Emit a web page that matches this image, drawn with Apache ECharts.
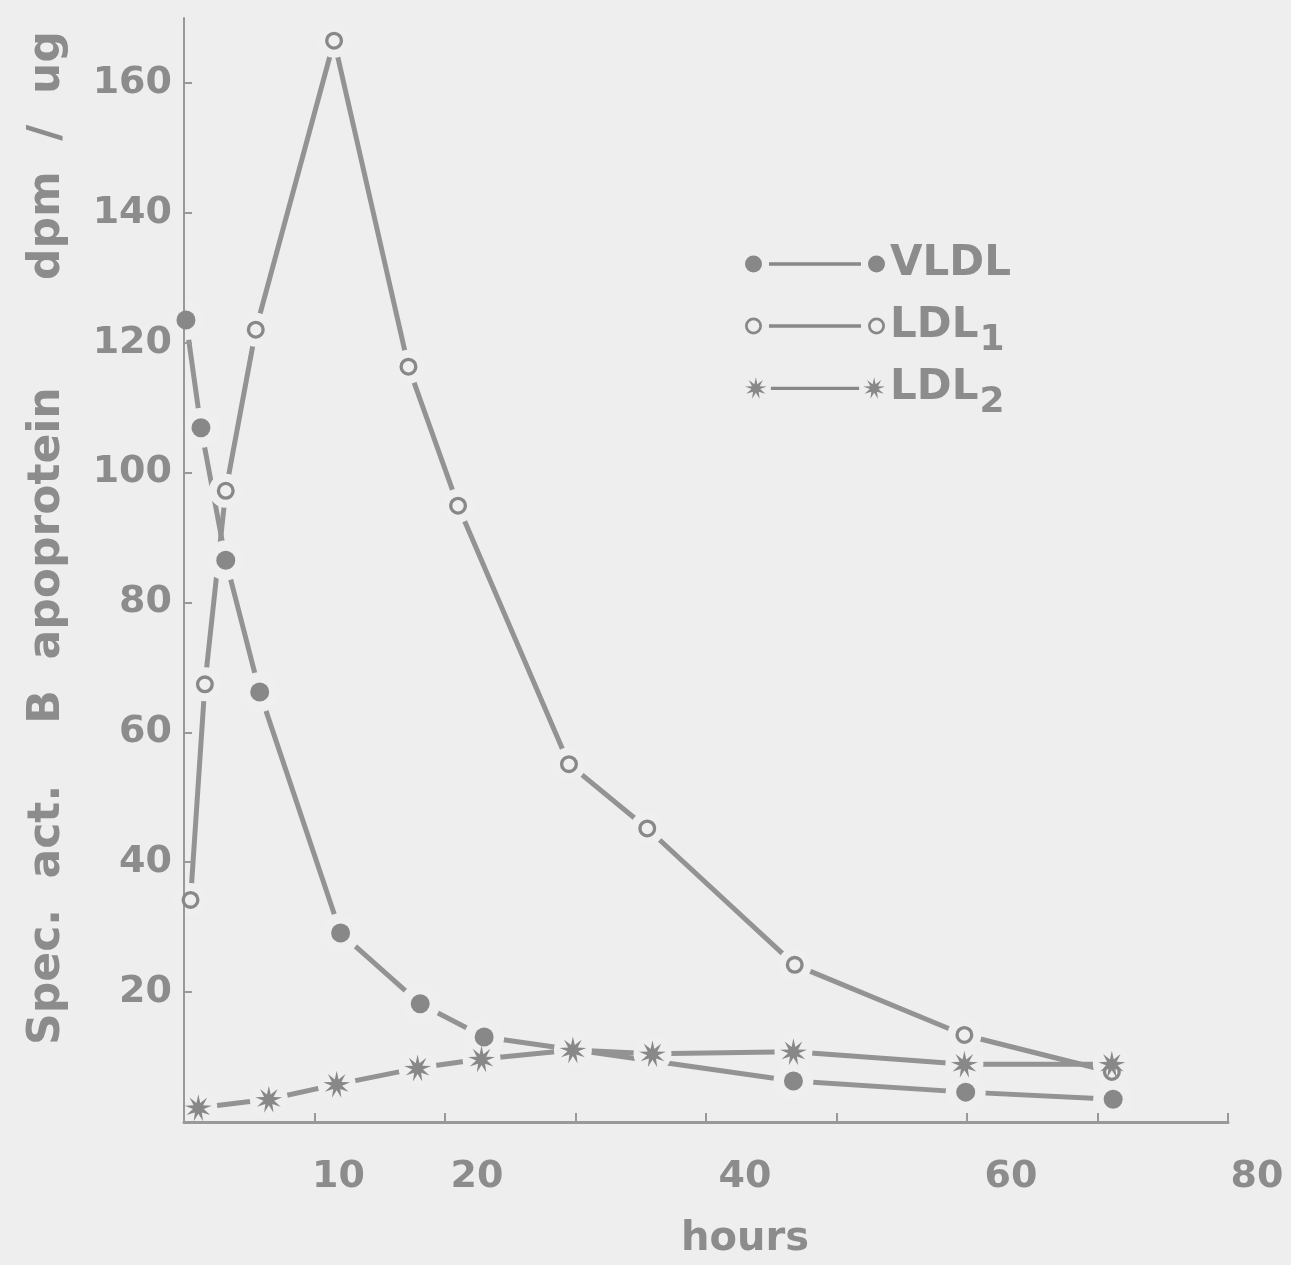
<!DOCTYPE html>
<html>
<head>
<meta charset="utf-8">
<script src="https://cdn.jsdelivr.net/npm/echarts@6/dist/echarts.min.js"></script>
<style>
  html, body { margin: 0; padding: 0; background: #eeeeee; }
  #chart { width: 1291px; height: 1265px; }
</style>
</head>
<body>
<div id="chart"></div>
<script>
// Specific activity of B apoprotein (dpm/ug) against time (hours) for each lipoprotein fraction
const vldlHours    = [0.15, 1.3, 3.2, 5.8, 12.0, 18.1, 23.0, 46.7, 59.9, 71.2];
const vldlActivity = [123.5, 106.9, 86.5, 66.2, 29.1, 18.2, 13.1, 6.3, 4.6, 3.5];

const ldl1Hours    = [0.5, 1.6, 3.2, 5.5, 11.5, 17.2, 21.0, 29.5, 35.5, 46.8, 59.8, 71.1];
const ldl1Activity = [34.2, 67.4, 97.2, 122.0, 166.5, 116.3, 94.9, 55.1, 45.2, 24.2, 13.4, 7.7];

const ldl2Hours    = [1.1, 6.5, 11.7, 17.9, 22.8, 29.8, 35.9, 46.7, 59.8, 71.1];
const ldl2Activity = [2.2, 3.5, 5.8, 8.3, 9.7, 11.1, 10.5, 10.8, 8.9, 8.9];

// Axis ticks and labels
const xTickValues  = [10, 20, 30, 40, 50, 60, 70, 80];
const xTickLabels  = [10, 20, 40, 60, 80];
const yTickValues  = [20, 40, 60, 80, 100, 120, 140, 160];
const yTickLabels  = [20, 40, 60, 80, 100, 120, 140, 160];

const INK = '#8c8c8c';
const LINE = '#939393';
const MARK = '#888888';
const PAPER = '#eeeeee';
const HALO = '#efefef';
const FONT = '"DejaVu Sans", sans-serif';

// Shape helpers (SVG path strings for symbols and legend icons)
function starPath(cx, cy, rOut, rIn, n) {
  let d = '';
  for (let i = 0; i < 2 * n; i++) {
    const r = i % 2 ? rIn : rOut;
    const a = Math.PI * i / n - Math.PI / 2;
    d += (i ? 'L' : 'M') + (cx + r * Math.cos(a)).toFixed(2) + ',' + (cy + r * Math.sin(a)).toFixed(2);
  }
  return d + 'Z';
}
function discPath(cx, cy, r) {
  return `M${cx - r},${cy}a${r},${r} 0 1,0 ${2 * r},0a${r},${r} 0 1,0 ${-2 * r},0Z`;
}
function ringPath(cx, cy, ro, ri) {
  return discPath(cx, cy, ro) +
    `M${cx - ri},${cy}a${ri},${ri} 0 1,1 ${2 * ri},0a${ri},${ri} 0 1,1 ${-2 * ri},0Z`;
}
function barPath(x0, x1, y0, y1) {
  return `M${x0},${y0}L${x1},${y0}L${x1},${y1}L${x0},${y1}Z`;
}

const ringSymbol = 'path://' + ringPath(10, 10, 10, 6.3);
const starSymbol = 'path://' + starPath(10, 10, 10, 4.0, 9);

const legendIcons = {
  VLDL: 'path://' + discPath(8.5, 8.5, 8.5) + barPath(24, 116, 6.8, 10.2) + discPath(131.5, 8.5, 8.5),
  LDL1: 'path://' + ringPath(8.5, 8.5, 8.5, 5.8) + barPath(24, 116, 6.8, 10.2) + ringPath(131.5, 8.5, 8.5, 5.8),
  LDL2: 'path://' + starPath(11, 11, 11, 4.4, 9) + barPath(26, 114, 9.3, 12.7) + starPath(129, 11, 11, 4.4, 9)
};

function pairs(xs, ys) { return xs.map((x, i) => [x, ys[i]]); }

const fractions = [
  { name: 'VLDL', hours: vldlHours, act: vldlActivity, symbol: 'circle', size: 19, halo: 40 },
  { name: 'LDL1', hours: ldl1Hours, act: ldl1Activity, symbol: ringSymbol, size: 18, halo: 34 },
  { name: 'LDL2', hours: ldl2Hours, act: ldl2Activity, symbol: starSymbol, size: 27, halo: 38 }
];

// Horizontal shift of each hour label relative to its tick
const xLabelShift = { 10: 48, 20: 64, 40: 78, 60: 88, 80: 58 };
const xRich = {};
xTickLabels.forEach(v => {
  xRich['t' + v] = { fontSize: 38, fontWeight: 'bold', fontFamily: FONT, color: INK,
                     padding: [0, 0, 0, xLabelShift[v] || 0] };
});

const series = [];
// connecting lines (bottom layer)
fractions.forEach(f => series.push({
  type: 'line', name: f.name, data: pairs(f.hours, f.act), symbol: 'none', showSymbol: false,
  lineStyle: { color: LINE, width: 5 }, itemStyle: { color: LINE },
  z: 2, silent: true, animation: false
}));
// paper-toned halo round every point so the lines stop short of the markers
fractions.forEach(f => series.push({
  type: 'scatter', id: f.name + '-halo', data: pairs(f.hours, f.act), symbol: 'circle', symbolSize: f.halo,
  itemStyle: { color: HALO, opacity: 1 }, z: 3, silent: true, animation: false
}));
// markers (top layer)
fractions.forEach(f => series.push({
  type: 'scatter', id: f.name + '-point', data: pairs(f.hours, f.act), symbol: f.symbol, symbolSize: f.size,
  itemStyle: { color: MARK, opacity: 1 }, z: 6, silent: true, animation: false
}));

const axisLineColor = '#999999';
const chart = echarts.init(document.getElementById('chart'), null, { renderer: 'canvas' });
chart.setOption({
  backgroundColor: PAPER,
  animation: false,
  grid: { left: 184, right: 63, top: 18, bottom: 140, containLabel: false },
  legend: {
    orient: 'vertical', left: 740, top: 226, itemWidth: 140, itemHeight: 22, itemGap: -4,
    selectedMode: false, z: 6,
    data: fractions.map(f => ({ name: f.name, icon: legendIcons[f.name],
                                itemStyle: { color: MARK, borderWidth: 0 } })),
    formatter: name => ({ VLDL: 'VLDL{s| }', LDL1: 'LDL{s|1}', LDL2: 'LDL{s|2}' })[name],
    textStyle: {
      color: INK, fontFamily: FONT, fontWeight: 'bold', fontSize: 42, lineHeight: 46,
      rich: {
        s: { color: INK, fontFamily: FONT, fontWeight: 'bold', fontSize: 36, lineHeight: 34,
             padding: [30, 0, 0, 1] }
      }
    }
  },
  xAxis: {
    type: 'value', min: 0, max: 80, interval: 10, z: 4,
    name: 'hours', nameLocation: 'middle', nameGap: 98,
    nameTextStyle: { color: INK, fontFamily: FONT, fontWeight: 'bold', fontSize: 40,
                     padding: [0, 0, 0, 78] },
    axisLine: { lineStyle: { color: axisLineColor, width: 3 } },
    axisTick: { inside: true, length: 9, customValues: xTickValues,
                lineStyle: { color: axisLineColor, width: 2 } },
    axisLabel: {
      customValues: xTickLabels, margin: 36,
      formatter: v => xTickLabels.indexOf(v) >= 0 ? '{t' + v + '|' + v + '}' : '',
      rich: xRich
    },
    splitLine: { show: false }
  },
  yAxis: {
    type: 'value', min: 0, max: 170, interval: 10, z: 4,
    name: 'Spec.  act.    B  apoprotein       dpm  /  ug', nameLocation: 'middle', nameRotate: 90, nameGap: 114,
    nameTextStyle: { color: INK, fontFamily: FONT, fontWeight: 'bold', fontSize: 44,
                     padding: [0, 0, 0, 64] },
    axisLine: { lineStyle: { color: axisLineColor, width: 2 } },
    axisTick: { inside: true, length: 8, customValues: yTickValues,
                lineStyle: { color: axisLineColor, width: 2 } },
    axisLabel: {
      customValues: yTickLabels, margin: 12,
      formatter: v => yTickLabels.indexOf(v) >= 0 ? String(v) : '',
      color: INK, fontFamily: FONT, fontWeight: 'bold', fontSize: 38,
      padding: [0, 0, 24, 0]
    },
    splitLine: { show: false }
  },
  series: series
});
</script>
</body>
</html>
